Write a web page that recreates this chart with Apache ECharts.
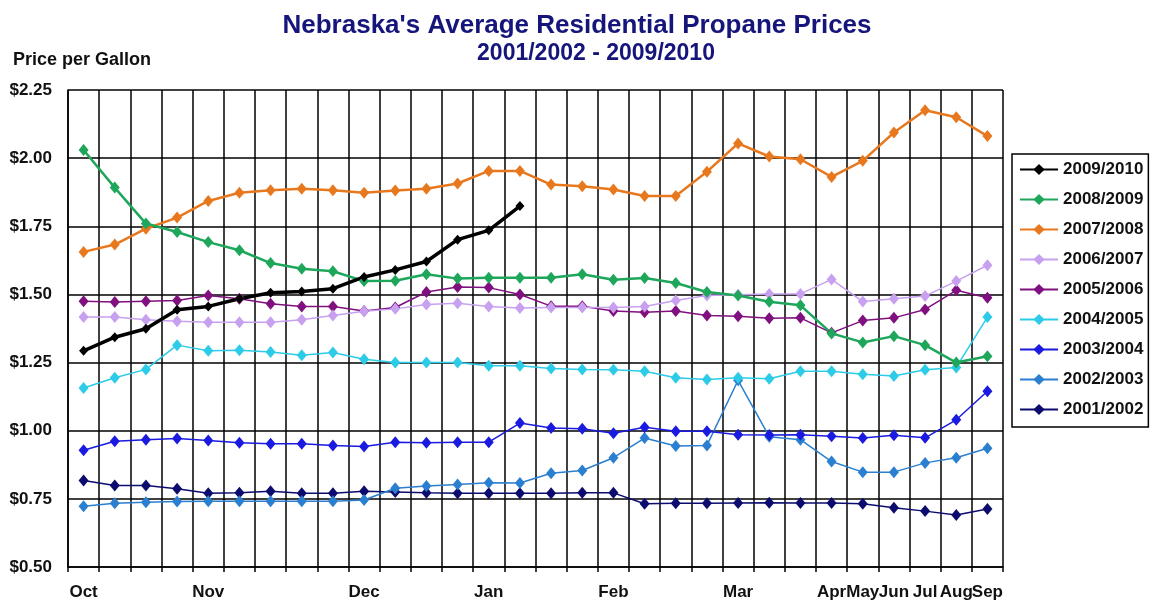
<!DOCTYPE html>
<html>
<head>
<meta charset="utf-8">
<title>Nebraska's Average Residential Propane Prices</title>
<script src="https://cdn.jsdelivr.net/npm/echarts@6/dist/echarts.min.js"></script>
<style>
  html, body { margin: 0; padding: 0; background: #fff; }
  #chart { width: 1150px; height: 605px; }
</style>
</head>
<body>
<div id="chart"></div>
<script>
// weekly points, Oct -> Sep (30 weeks), only some weeks get a month label
var weekLabels = ['Oct', '', '', '', 'Nov', '', '', '', '', 'Dec', '', '', '', 'Jan', '', '', '', 'Feb', '', '', '', 'Mar', '', '', 'Apr', 'May', 'Jun', 'Jul', 'Aug', 'Sep']

var p0910 = [1.293, 1.343, 1.374, 1.444, 1.456, 1.484, 1.506, 1.511, 1.521, 1.564, 1.590, 1.621, 1.701, 1.735, 1.824]
var p0809 = [2.030, 1.892, 1.760, 1.729, 1.692, 1.662, 1.615, 1.594, 1.585, 1.549, 1.550, 1.574, 1.558, 1.561, 1.561, 1.561, 1.574, 1.554, 1.560, 1.542, 1.509, 1.496, 1.473, 1.460, 1.357, 1.324, 1.347, 1.314, 1.250, 1.273]
var p0708 = [1.656, 1.683, 1.741, 1.782, 1.843, 1.873, 1.882, 1.888, 1.882, 1.873, 1.881, 1.888, 1.907, 1.953, 1.953, 1.903, 1.897, 1.885, 1.861, 1.861, 1.950, 2.054, 2.006, 1.996, 1.931, 1.990, 2.094, 2.176, 2.150, 2.081]
var p0607 = [1.417, 1.417, 1.407, 1.402, 1.398, 1.398, 1.398, 1.407, 1.423, 1.438, 1.447, 1.463, 1.468, 1.456, 1.450, 1.452, 1.452, 1.452, 1.456, 1.478, 1.496, 1.499, 1.502, 1.502, 1.555, 1.474, 1.484, 1.494, 1.549, 1.607]
var p0506 = [1.475, 1.472, 1.475, 1.478, 1.496, 1.484, 1.466, 1.456, 1.456, 1.439, 1.452, 1.509, 1.527, 1.525, 1.500, 1.457, 1.457, 1.439, 1.435, 1.439, 1.423, 1.420, 1.413, 1.414, 1.359, 1.404, 1.414, 1.445, 1.515, 1.488]
var p0405 = [1.157, 1.194, 1.225, 1.314, 1.293, 1.295, 1.289, 1.277, 1.287, 1.262, 1.250, 1.250, 1.250, 1.238, 1.238, 1.228, 1.225, 1.224, 1.218, 1.194, 1.188, 1.194, 1.191, 1.218, 1.218, 1.207, 1.201, 1.224, 1.232, 1.417]
var p0304 = [0.928, 0.961, 0.967, 0.971, 0.964, 0.956, 0.952, 0.952, 0.946, 0.942, 0.958, 0.956, 0.958, 0.958, 1.028, 1.010, 1.007, 0.991, 1.013, 0.998, 0.998, 0.985, 0.984, 0.985, 0.980, 0.973, 0.983, 0.974, 1.040, 1.145]
var p0203 = [0.723, 0.734, 0.738, 0.740, 0.741, 0.741, 0.741, 0.741, 0.741, 0.746, 0.789, 0.797, 0.803, 0.809, 0.808, 0.844, 0.854, 0.901, 0.973, 0.944, 0.946, 1.185, 0.978, 0.967, 0.887, 0.848, 0.848, 0.882, 0.901, 0.936]
var p0102 = [0.817, 0.799, 0.799, 0.787, 0.771, 0.772, 0.778, 0.771, 0.771, 0.778, 0.775, 0.772, 0.771, 0.771, 0.771, 0.771, 0.772, 0.772, 0.732, 0.734, 0.734, 0.735, 0.736, 0.735, 0.735, 0.732, 0.717, 0.705, 0.691, 0.713]

var seasons = ['2009/2010', '2008/2009', '2007/2008', '2006/2007', '2005/2006', '2004/2005', '2003/2004', '2002/2003', '2001/2002']

var FONT = '"Liberation Sans", Arial, sans-serif'
var TITLE_COLOR = '#15157c'

function makeSeries(name, data, color, width, size) {
  return {
    name: name,
    type: 'line',
    data: data,
    symbol: 'diamond',
    symbolSize: size,
    color: color,
    lineStyle: { color: color, width: width },
    itemStyle: { color: color },
    emphasis: { disabled: true }
  }
}

var chart = echarts.init(document.getElementById('chart'))

chart.setOption({
  animation: false,
  title: [{
    text: "Nebraska's Average Residential Propane Prices",
    left: 572,
    top: 8,
    textAlign: 'center',
    textStyle: { color: TITLE_COLOR, fontFamily: FONT, fontWeight: 'bold', fontSize: 26 }
  }, {
    text: '2001/2002 - 2009/2010',
    left: 591,
    top: 37,
    textAlign: 'center',
    textStyle: { color: TITLE_COLOR, fontFamily: FONT, fontWeight: 'bold', fontSize: 23 }
  }],
  graphic: [{
    type: 'text',
    left: 13,
    top: 51,
    style: {
      text: 'Price per Gallon',
      fill: '#111',
      font: 'bold 18px ' + FONT
    }
  }],
  legend: {
    orient: 'vertical',
    left: 1012,
    top: 154,
    data: seasons,
    itemWidth: 38,
    itemHeight: 14,
    itemGap: 13,
    padding: [7, 5, 9, 7],
    borderColor: '#000',
    borderWidth: 1.5,
    selectedMode: false,
    textStyle: {
      color: '#111',
      fontFamily: FONT,
      fontWeight: 'bold',
      fontSize: 17,
      lineHeight: 16
    }
  },
  grid: {
    left: 68,
    right: 147,
    top: 90,
    bottom: 38,
    containLabel: false
  },
  xAxis: {
    type: 'category',
    data: weekLabels,
    boundaryGap: true,
    axisLine: { show: true, lineStyle: { color: '#000', width: 1.5 } },
    axisTick: { show: true, interval: 0, length: 5, lineStyle: { color: '#000', width: 1.5 } },
    splitLine: { show: true, interval: 0, lineStyle: { color: '#000', width: 1.5 } },
    axisLabel: {
      interval: 0,
      margin: 17,
      color: '#111',
      fontFamily: FONT,
      fontWeight: 'bold',
      fontSize: 17
    }
  },
  yAxis: {
    type: 'value',
    min: 0.5,
    max: 2.25,
    interval: 0.25,
    axisLine: { show: true, lineStyle: { color: '#000', width: 1.5 } },
    axisTick: { show: false },
    splitLine: { show: true, lineStyle: { color: '#000', width: 1.5 } },
    axisLabel: {
      margin: 16,
      color: '#111',
      fontFamily: FONT,
      fontWeight: 'bold',
      fontSize: 17,
      formatter: function (v) { return '$' + v.toFixed(2) }
    }
  },
  // drawn bottom to top, 2009/2010 last so it sits over the others
  series: [
    makeSeries('2001/2002', p0102, '#0c0c6e', 1.5, [10, 12]),
    makeSeries('2002/2003', p0203, '#2b7fd0', 1.5, [10, 12]),
    makeSeries('2003/2004', p0304, '#1a1ae0', 1.5, [10, 12]),
    makeSeries('2004/2005', p0405, '#2ccbe8', 1.5, [10, 12]),
    makeSeries('2005/2006', p0506, '#80107f', 1.5, [10, 12]),
    makeSeries('2006/2007', p0607, '#c8a0f0', 1.5, [10, 12]),
    makeSeries('2007/2008', p0708, '#e8781e', 2.5, [10, 12]),
    makeSeries('2008/2009', p0809, '#1ea75a', 2.5, [10, 12]),
    makeSeries('2009/2010', p0910, '#000000', 3.5, [9, 10])
  ]
})
</script>
</body>
</html>
